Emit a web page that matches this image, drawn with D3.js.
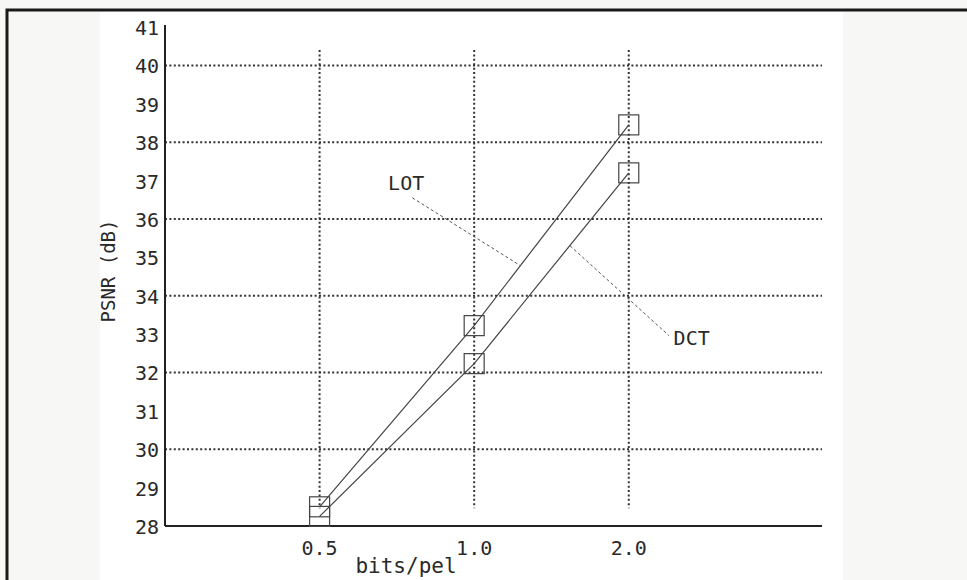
<!DOCTYPE html>
<meta charset="utf-8">
<style>
    body { margin: 0; background: #f7f7f5; }
    svg text {
        font-family: "DejaVu Sans Mono", "Liberation Mono", monospace;
        fill: #2a2a2a;
    }
    .grid line {
        stroke: #333;
        stroke-width: 2;
        stroke-dasharray: 2 2.4;
    }
    .series path { fill: none; stroke: #444; stroke-width: 1.2; }
    .series rect { fill: none; stroke: #444; stroke-width: 1.2; }
    .leader { stroke: #555; stroke-width: 1; stroke-dasharray: 3 2.5; }
</style>
<svg width="967" height="580"></svg>
<script src="https://d3js.org/d3.v7.min.js"></script>
<script>

    // bit rates and PSNR values
    var rates = ["0.5", "1.0", "2.0"],
        lotPsnr = [28.5, 33.22, 38.45],
        dctPsnr = [28.25, 32.23, 37.2],
        yTicks = d3.range(28, 42),
        yGrid = [30, 32, 34, 36, 38, 40];

    // curve labels: text spot and leader line, in data units (rate index, dB)
    var notes = [
        {name: "LOT", tx: 0.56, ty: 36.96, anchor: "middle", x1: 0.60, y1: 36.55, x2: 1.30, y2: 34.78},
        {name: "DCT", tx: 2.29, ty: 32.92, anchor: "start", x1: 1.62, y1: 35.3, x2: 2.26, y2: 32.96}
    ];

    var svg = d3.select("svg");

    // paper and frame
    svg.append("rect")
        .attr("x", 100).attr("y", 12)
        .attr("width", 743).attr("height", 570)
        .attr("fill", "#fff");
    svg.append("rect")
        .attr("x", 7).attr("y", 10)
        .attr("width", 980).attr("height", 600)
        .attr("fill", "none")
        .attr("stroke", "#1a1a1a")
        .attr("stroke-width", 3);

    var x = d3.scaleLinear().domain([-1, 3.25]).range([165, 822]),
        y = d3.scaleLinear().domain([28, 41]).range([526, 27]);

    // dotted grid
    var grid = svg.append("g").attr("class", "grid");
    grid.selectAll(".h")
        .data(yGrid)
        .enter().append("line")
        .attr("x1", x(-1)).attr("x2", x(3.25))
        .attr("y1", function (d) { return y(d); })
        .attr("y2", function (d) { return y(d); });
    grid.selectAll(".v")
        .data(rates)
        .enter().append("line")
        .attr("x1", function (d, i) { return x(i); })
        .attr("x2", function (d, i) { return x(i); })
        .attr("y1", y(40.4))
        .attr("y2", y(28.46));

    // axes
    svg.append("line")
        .attr("x1", x(-1)).attr("x2", x(-1))
        .attr("y1", y(41.05)).attr("y2", y(28))
        .attr("stroke", "#222").attr("stroke-width", 2);
    svg.append("line")
        .attr("x1", x(-1)).attr("x2", x(3.25))
        .attr("y1", y(28)).attr("y2", y(28))
        .attr("stroke", "#222").attr("stroke-width", 2.2);

    svg.selectAll(".ytick")
        .data(yTicks)
        .enter().append("text")
        .attr("x", 159)
        .attr("y", function (d) { return y(d) + 8; })
        .attr("text-anchor", "end")
        .style("font-size", "20px")
        .text(function (d) { return d; });

    svg.selectAll(".xtick")
        .data(rates)
        .enter().append("text")
        .attr("x", function (d, i) { return x(i); })
        .attr("y", 555)
        .attr("text-anchor", "middle")
        .style("font-size", "20px")
        .text(function (d) { return d; });

    svg.append("text")
        .attr("x", 406).attr("y", 573)
        .attr("text-anchor", "middle")
        .style("font-size", "21px")
        .text("bits/pel");

    svg.append("text")
        .attr("transform", "translate(115,271) rotate(-90)")
        .attr("text-anchor", "middle")
        .style("font-size", "19px")
        .text("PSNR (dB)");

    // the two curves with square markers
    var line = d3.line()
        .x(function (d, i) { return x(i); })
        .y(function (d) { return y(d); });

    [lotPsnr, dctPsnr].forEach(function (vals) {
        var g = svg.append("g").attr("class", "series");
        g.append("path").attr("d", line(vals));
        g.selectAll("rect")
            .data(vals)
            .enter().append("rect")
            .attr("x", function (d, i) { return x(i) - 10; })
            .attr("y", function (d) { return y(d) - 10; })
            .attr("width", 20).attr("height", 20);
    });

    // labels with dashed leaders
    notes.forEach(function (n) {
        svg.append("line")
            .attr("class", "leader")
            .attr("x1", x(n.x1)).attr("y1", y(n.y1))
            .attr("x2", x(n.x2)).attr("y2", y(n.y2));
        svg.append("text")
            .attr("x", x(n.tx))
            .attr("y", y(n.ty) + 8)
            .attr("text-anchor", n.anchor)
            .style("font-size", "20px")
            .text(n.name);
    });
</script>
